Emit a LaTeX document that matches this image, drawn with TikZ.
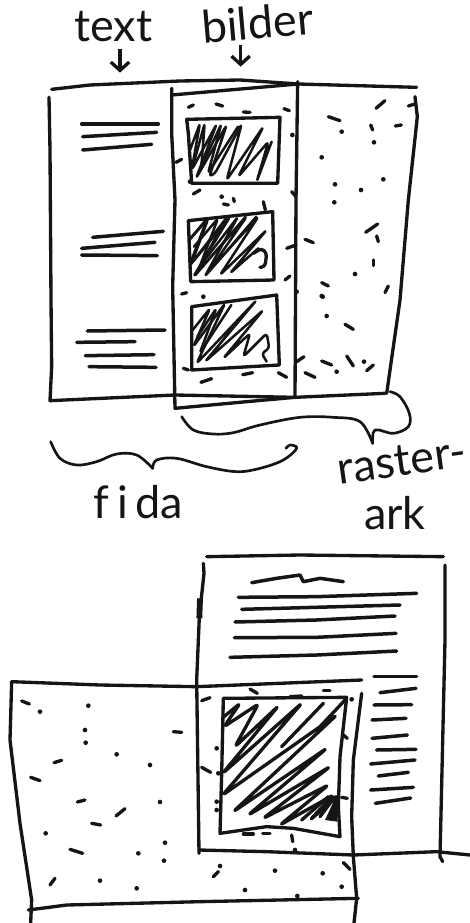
\documentclass[tikz,border=0pt]{standalone}
\usepackage{fontspec}
\setsansfont{Lato}
\usetikzlibrary{arrows.meta}

\begin{document}
\begin{tikzpicture}[x=0.2pt, y=-0.2pt,
    inkLine/.style={draw=inkColour, line width=2pt, line cap=round, line join=round},
    thinLine/.style={draw=inkColour, line width=1.6pt, line cap=round, line join=round},
    textLine/.style={draw=inkColour, line width=2.1pt, line cap=round, line join=round},
    hatchLine/.style={draw=inkColour, line width=1.5pt, line cap=round, line join=round, rounded corners=2pt},
    speck/.style={draw=inkColour, line width=2pt, line cap=round},
    sketchArrow/.style={draw=inkColour, line width=2pt, -{Straight Barb[length=5pt, width=11pt]}},
    handText/.style={font=\sffamily\fontsize{27}{27}\selectfont, text=inkColour, inner sep=0pt}]
    \definecolor{inkColour}{HTML}{151515}

    \useasboundingbox (0,0) rectangle (1410,2769);

    % Labels and arrows
    \node[handText] (textLabel) at (340,80) {text};
    \node[handText, rotate=5] (bilderLabel) at (772,68) {bilder};
    \coordinate (textTip) at (360,218);
    \coordinate (bilderTip) at (722,200);
    \draw[sketchArrow] (360,148) -- (textTip);
    \draw[sketchArrow] (722,135) -- (bilderTip);
    \node[handText] (fidaLabel) at (415,1505) {f\,i\,da};
    \node[handText, rotate=8] (rasterLabel) at (1205,1382) {raster-};
    \node[handText] (arkLabel) at (1185,1540) {ark};

    % Raster sheet outline
    \draw[inkLine] (155,268) -- (270,255) -- (540,243) -- (720,240) -- (895,252) -- (1250,262);
    \draw[inkLine] (147,292) -- (150,450) -- (153,900) -- (155,1100) -- (150,1202) -- (525,1185) -- (885,1192) -- (1155,1180);
    \draw[inkLine] (1245,290) -- (1252,350) -- (1225,600) -- (1200,900) -- (1160,1180);

    % Film frame
    \draw[inkLine] (515,285) -- (895,252);
    \draw[inkLine] (515,265) -- (515,400) -- (525,600) -- (518,860) -- (525,1225) -- (740,1205) -- (885,1192);
    \draw[inkLine] (893,245) -- (888,600) -- (885,1192);

    % Text rows
    \foreach \xa/\ya/\xb/\yb in {245/372/475/372, 248/410/470/397, 248/450/455/433,
        278/712/490/694, 245/745/465/727, 245/765/472/767,
        262/993/495/990, 230/1027/405/1025, 256/1067/462/1064, 267/1100/468/1102}
        \draw[textLine] (\xa,\ya) -- (\xb,\yb);

    % Pictures in the frame
    \draw[inkLine] (560,358) -- (840,352) -- (833,550) -- (575,550) -- (565,400) -- cycle;
    \draw[inkLine] (565,662) -- (818,635) -- (822,840) -- (572,845) -- cycle;
    \draw[inkLine] (575,920) -- (830,885) -- (838,1095) -- (575,1110) -- cycle;

    % Hatching of the pictures
    \begin{scope}
        \clip (560,358) -- (840,352) -- (833,550) -- (575,550) -- (565,400) -- cycle;
        \draw[hatchLine] (570,450) -- (600,370) -- (575,510) -- (650,372) -- (588,535) -- (680,375) -- (628,530) -- (645,520) -- (725,372) -- (680,540) -- (790,380) -- (715,530) -- (805,425) -- (770,545) -- (815,425);
        \foreach \off in {14}
            \draw[hatchLine, shift={(\off,0)}] (570,480) -- (600,370) -- (590,500) -- (650,372) -- (610,520) -- (700,380);
    \end{scope}
    \begin{scope}
        \clip (565,662) -- (818,635) -- (822,840) -- (572,845) -- cycle;
        \draw[hatchLine] (568,720) -- (625,655) -- (575,790) -- (690,650) -- (580,830) -- (740,650) -- (625,815) -- (775,650) -- (660,825) -- (800,690) -- (690,820) -- (775,745);
        \foreach \off in {-18,14}
            \draw[hatchLine, shift={(\off,0)}] (568,740) -- (640,655) -- (585,800) -- (700,650) -- (600,830) -- (755,650);
    \end{scope}
    \draw[hatchLine, line width=2pt] (760,760) -- (785,745) -- (800,760) -- (795,800) -- (780,802);
    \begin{scope}
        \clip (575,920) -- (830,885) -- (838,1095) -- (575,1110) -- cycle;
        \draw[hatchLine] (578,990) -- (630,925) -- (580,1040) -- (675,910) -- (590,1090) -- (770,900) -- (615,1085) -- (790,930) -- (670,1075) -- (750,1000) -- (730,1070) -- (800,1000) -- (808,1045) -- (785,1060) -- (800,1085);
        \foreach \off in {14}
            \draw[hatchLine, shift={(\off,0)}] (578,1010) -- (635,925) -- (585,1060) -- (680,915);
    \end{scope}

    % Stipple on the sheet and frame
    \foreach \x/\y in {1025/395, 965/472, 1150/538, 1005/553, 1083/570, 1003/607, 1065/822,
        1122/427, 877/405, 965/888, 610/890, 968/890, 980/948, 1010/1115, 1092/1085,
        665/590, 570/545, 890/875}
        \fill[inkColour] (\x,\y) circle (1.4pt);
    \foreach \xa/\ya/\xb/\yb in {565/322/580/315, 648/312/668/318, 730/336/750/337, 852/326/868/332,
        985/350/1020/362, 1128/325/1155/302, 1225/318/1245/312, 1112/375/1118/390, 1186/378/1204/375,
        528/487/545/478, 580/582/600/570, 670/612/685/615, 700/595/703/605, 790/605/796/630,
        875/575/888/590, 915/718/940/728, 860/745/888/735, 1097/697/1133/672, 1130/708/1135/725,
        1120/780/1120/797, 965/848/985/858, 855/840/870/828, 1155/878/1165/858, 545/882/560/878,
        1035/973/1060/988, 965/1083/995/1095, 1040/1068/1060/1098, 1100/1112/1120/1095,
        915/1118/945/1132, 890/1085/912/1070, 835/1118/860/1132, 728/1124/758/1118,
        603/1147/635/1136, 550/1105/565/1110}
        \draw[speck] (\xa,\ya) -- (\xb,\yb);

    % Braces
    \draw[thinLine] plot[smooth, tension=0.6] coordinates {(545,1250) (580,1290) (640,1302) (700,1298) (780,1275) (900,1252) (1000,1252) (1080,1265) (1118,1330)};
    \draw[thinLine] plot[smooth, tension=0.6] coordinates {(1118,1330) (1125,1290) (1180,1300) (1225,1280) (1228,1240) (1200,1190) (1170,1175)};
    \draw[thinLine] plot[smooth, tension=0.6] coordinates {(152,1325) (180,1375) (230,1395) (290,1385) (350,1362) (410,1365) (458,1405)};
    \draw[thinLine] plot[smooth, tension=0.6] coordinates {(458,1405) (470,1380) (530,1375) (620,1400) (710,1415) (780,1405) (850,1380) (890,1345) (870,1335) (858,1345)};

    % Lower spread
    \begin{scope}[shift={(0,1620)}]
        % Page
        \draw[inkLine] (620,50) -- (900,45) -- (1330,50);
        \draw[inkLine] (610,70) -- (612,100) -- (598,230) -- (590,420) -- (597,940);
        \draw[inkLine] (1335,75) -- (1335,300) -- (1320,950) -- (1328,965);
        \draw[inkLine] (597,930) -- (800,935) -- (1060,945) -- (1310,935) -- (1410,945);
        \draw[line width=3.5pt, draw=inkColour] (600,175) -- (598,235);

        % Heading and text rows
        \draw[textLine] (755,128) -- (830,115) -- (900,105) -- (910,125) -- (960,115) -- (1030,125);
        \draw[textLine] (715,172) -- (950,170) -- (1250,160);
        \draw[textLine] (725,208) -- (1200,195);
        \draw[textLine] (705,246) -- (950,240) -- (1185,228);
        \draw[textLine] (703,293) -- (950,292) -- (1188,280);
        \draw[textLine] (690,352) -- (950,345) -- (1190,333);
        \foreach \xa/\ya/\xb/\yb in {1122/410/1250/410, 1140/458/1248/445, 1122/495/1235/494, 1116/540/1218/535,
            1116/595/1222/585, 1130/630/1248/628, 1112/672/1245/660, 1135/708/1225/697,
            1112/750/1240/742, 1126/790/1232/774}
            \draw[textLine] (\xa,\ya) -- (\xb,\yb);

        % Raster sheet outline
        \draw[inkLine] (35,425) -- (300,435) -- (590,440) -- (1085,420);
        \draw[inkLine] (35,425) -- (30,600) -- (60,850) -- (95,1080) -- (92,1149);
        \draw[inkLine] (85,1110) -- (200,1095) -- (600,1085) -- (1075,1075);
        \draw[inkLine] (1085,460) -- (1060,660) -- (1055,830) -- (1060,950) -- (1070,1075) -- (1062,1149);

        % Picture and its hatching
        \draw[inkLine] (670,475) -- (1040,472) -- (1020,650) -- (1015,800) -- (1020,890) -- (880,865) -- (800,860) -- (660,880) -- (665,700) -- cycle;
        \begin{scope}
            \clip (670,475) -- (1040,472) -- (1020,650) -- (1015,800) -- (1020,890) -- (880,865) -- (800,860) -- (660,880) -- (665,700) -- cycle;
            \draw[hatchLine, line width=2pt] (672,530) -- (720,490) -- (672,560) -- (775,492) -- (705,620) -- (835,498) -- (668,700) -- (905,490) -- (668,765) -- (1010,525) -- (700,815) -- (980,625) -- (745,825) -- (990,680) -- (790,835) -- (985,735) -- (840,855) -- (1000,765) -- (930,840) -- (1012,770);
            \draw[hatchLine, line width=2pt] (970,490) -- (845,620) (1035,480) -- (960,560) (905,840) -- (985,770) (960,830) -- (1005,770);
        \end{scope}
        \fill[inkColour] (975,840) -- (1010,765) -- (1012,845) -- cycle;

        % Stipple
        \foreach \x/\y in {120/515, 265/497, 255/570, 257/608, 350/643, 450/675, 480/786, 137/880,
            415/940, 492/962, 495/908, 300/1022, 410/1045, 660/978, 825/992, 968/1000, 735/1050,
            892/1068, 1025/1040, 885/930, 1055/478, 650/625, 655/700, 650/785, 650/810}
            \fill[inkColour] (\x,\y) circle (1.4pt);
        \foreach \xa/\ya/\xb/\yb in {65/483/88/492, 162/668/185/661, 92/712/120/722, 232/786/255/780,
            348/828/375/806, 275/850/302/855, 210/928/248/940, 520/575/545/577, 605/482/630/473,
            750/447/772/460, 605/682/632/697, 1030/585/1042/595, 1025/772/1042/775, 730/882/760/882,
            788/880/810/880, 875/885/878/905, 970/452/990/452, 150/1035/165/1015, 640/1010/655/995,
            1030/968/1050/988, 870/470/905/468}
            \draw[speck] (\xa,\ya) -- (\xb,\yb);
    \end{scope}

\end{tikzpicture}
\end{document}
